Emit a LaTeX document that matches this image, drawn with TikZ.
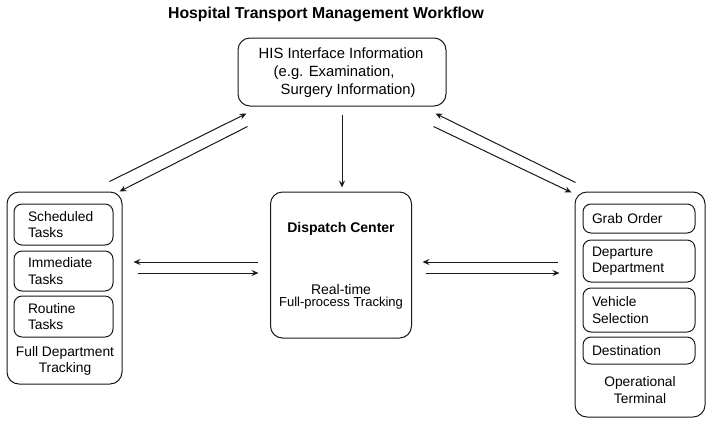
\documentclass[tikz,border=0pt]{standalone}
\usepackage{fontspec}
\setmainfont{Liberation Sans}
\usetikzlibrary{arrows.meta}
\begin{document}
\begin{tikzpicture}[x=1pt,y=-1pt,
 line/.style={draw=black!90, line width=1pt},
 box/.style={line, rounded corners=12pt, inner sep=0pt},
 inboxl/.style={line, rounded corners=8pt, font=\fontsize{13.8}{16.5}\selectfont, align=left, text width=71pt, inner xsep=14pt, inner ysep=0pt},
 inboxr/.style={line, rounded corners=8pt, font=\fontsize{13.8}{16.5}\selectfont, align=left, text width=94pt, inner xsep=9pt, inner ysep=0pt},
 lbl/.style={font=\fontsize{13.8}{16.5}\selectfont, align=center, inner sep=0pt},
 arr/.style={line, -{Stealth[length=7pt,width=6pt,inset=2.5pt]}}]
\useasboundingbox (0,0) rectangle (708,424);

\node[font=\bfseries\fontsize{15.8}{19}\selectfont, anchor=base, inner sep=0pt] (title) at (326,18.5) {Hospital Transport Management Workflow};

% HIS
\node[box, minimum width=208pt, minimum height=68pt] (his) at (342,72) {};
\node[font=\fontsize{14.8}{18}\selectfont, align=left, inner sep=0pt] (histxt) at (341,73) {HIS Interface Information\\\hspace*{15pt}(e.g. Examination,\\\hspace*{22pt}Surgery Information)};

% Dispatch
\node[box, minimum width=141pt, minimum height=146pt] (disp) at (341,265) {};
\node[font=\bfseries\fontsize{14}{17}\selectfont, inner sep=0pt] (dtitle) at (341,229) {Dispatch Center};
\node[align=center, inner sep=0pt] (dtxt) at (341,297) {{\fontsize{14}{18}\selectfont Real-time}\\{\fontsize{13}{18}\selectfont Full-process Tracking}};

% Left
\node[box, minimum width=115pt, minimum height=192pt] (lft) at (64.5,288) {};
\node[inboxl, minimum height=41pt] (sched) at (63.5,224.5) {Scheduled\\Tasks};
\node[inboxl, minimum height=40pt] (immed) at (63.5,271) {Immediate\\Tasks};
\node[inboxl, minimum height=41pt] (rout) at (63.5,316.5) {Routine\\Tasks};
\node[lbl] (ltxt) at (65,361) {Full Department\\Tracking};

% Right
\node[box, minimum width=130pt, minimum height=225pt] (rgt) at (640,304.5) {};
\node[inboxr, minimum height=29pt] (grab) at (639,218.5) {Grab Order};
\node[inboxr, minimum height=42pt] (dep) at (639,261) {Departure\\Department};
\node[inboxr, minimum height=44pt] (veh) at (639,310) {Vehicle\\Selection};
\node[inboxr, minimum height=27pt] (dest) at (639,350.5) {Destination};
\node[lbl] (rtxt) at (640,390) {Operational\\Terminal};

% arrows
\draw[arr] ([shift={(0,8)}]his.south) -- ([shift={(1,-4)}]disp.north);
\draw[arr] ([shift={(-12.5,-3)}]disp.west) -- ([shift={(11,-26)}]lft.east);
\draw[arr] ([shift={(15,-15)}]lft.east) -- ([shift={(-11.5,8)}]disp.west);
\draw[arr] ([shift={(-17,-42.5)}]rgt.west) -- ([shift={(10.5,-3)}]disp.east);
\draw[arr] ([shift={(13.5,8)}]disp.east) -- ([shift={(-15,-31.5)}]rgt.west);
\draw[arr] ([shift={(-13,-10)}]lft.north east) -- ([shift={(9,7)}]his.south west);
\draw[arr] ([shift={(10,20)}]his.south west) -- ([shift={(-3,0)}]lft.north east);
\draw[arr] ([shift={(1,-9)}]rgt.north west) -- ([shift={(-11,7)}]his.south east);
\draw[arr] ([shift={(-13,20)}]his.south east) -- ([shift={(-3,1)}]rgt.north west);
\end{tikzpicture}
\end{document}
